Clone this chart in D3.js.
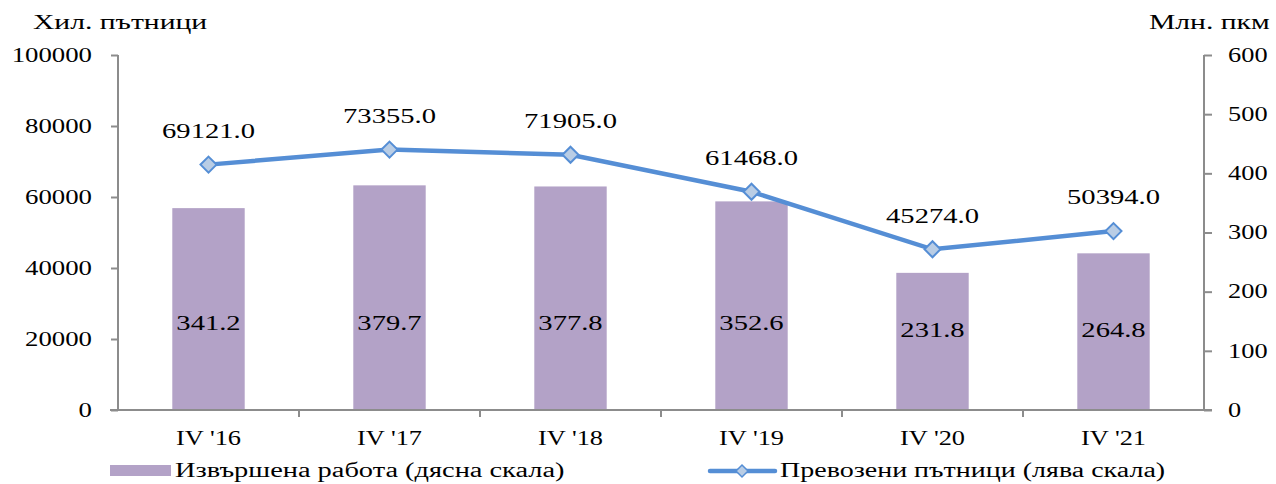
<!DOCTYPE html>
<html lang="bg">
<head>
<meta charset="utf-8">
<title>Chart</title>
<script src="https://d3js.org/d3.v7.min.js"></script>
<style>
body { margin: 0; background: #fff; }
text { font-family: "Liberation Serif", "Times New Roman", serif; fill: #000; }
</style>
</head>
<body>
<div id="chart"></div>
<script>
// data
var categories = ["IV '16", "IV '17", "IV '18", "IV '19", "IV '20", "IV '21"];
var workDone = [341.2, 379.7, 377.8, 352.6, 231.8, 264.8];          // right scale, mln pkm
var passengers = [69121.0, 73355.0, 71905.0, 61468.0, 45274.0, 50394.0]; // left scale, thousands
var leftTicks = [0, 20000, 40000, 60000, 80000, 100000];
var rightTicks = [0, 100, 200, 300, 400, 500, 600];

var w = 1276, h = 484;
var mLeft = 118, mRight = 1204, mTop = 55, mBottom = 410;

var svg = d3.select("#chart").append("svg")
  .attr("width", w).attr("height", h);

var x = d3.scaleBand().domain(categories).range([mLeft, mRight]).paddingInner(0).paddingOuter(0);
var yL = d3.scaleLinear().domain([0, 100000]).range([mBottom, mTop]);
var yR = d3.scaleLinear().domain([0, 600]).range([mBottom, mTop]);

// glyphs in the source are horizontally stretched, so scale text in x
function label(g, tx, ty, str, size, anchor, sx) {
  return g.append("text")
    .attr("transform", "translate(" + tx + "," + ty + ") scale(" + (sx || 1.3) + ",1)")
    .attr("text-anchor", anchor || "middle")
    .attr("dominant-baseline", "central")
    .style("font-size", size + "px")
    .text(str);
}

var axisColor = "#8c8c8c";

// bars
var barW = x.bandwidth() * 0.4;
svg.selectAll("rect.bar").data(workDone).enter().append("rect")
  .attr("class", "bar")
  .attr("x", (d, i) => x(categories[i]) + (x.bandwidth() - barW) / 2)
  .attr("y", d => yR(d))
  .attr("width", barW)
  .attr("height", d => yR(0) - yR(d))
  .attr("fill", "#b3a2c7");

// axes
var gl = svg.append("g").attr("transform", "translate(" + mLeft + ",0)")
  .call(d3.axisLeft(yL).tickValues(leftTicks).tickSize(7).tickFormat(""));
var gr = svg.append("g").attr("transform", "translate(" + mRight + ",0)")
  .call(d3.axisRight(yR).tickValues(rightTicks).tickSize(8).tickFormat(""));
[gl, gr].forEach(g => {
  g.select(".domain").attr("stroke", axisColor).attr("stroke-width", 2).attr("d", "M0," + mTop + "V" + mBottom);
  g.selectAll(".tick line").attr("stroke", axisColor).attr("stroke-width", 2);
});

// x axis line with ticks at category boundaries
svg.append("line").attr("x1", mLeft - 8).attr("x2", mRight + 8)
  .attr("y1", mBottom).attr("y2", mBottom)
  .attr("stroke", axisColor).attr("stroke-width", 2);
var bounds = categories.map(c => x(c));
svg.selectAll("line.xt").data(bounds.slice(1)).enter().append("line")
  .attr("x1", d => d).attr("x2", d => d)
  .attr("y1", mBottom).attr("y2", mBottom + 7)
  .attr("stroke", axisColor).attr("stroke-width", 2);

leftTicks.forEach(t => label(svg, 92, yL(t), d3.format("d")(t), 20, "end", 1.34));
rightTicks.forEach(t => label(svg, 1228, yR(t), t, 20, "start", 1.32));
categories.forEach(c => label(svg, x(c) + x.bandwidth() / 2, 438, c, 20, "middle", 1.32));

label(svg, 33, 22, "Хил. пътници", 20, "start", 1.48);
label(svg, 1149, 22, "Млн. пкм", 20, "start", 1.48);

// bar labels
workDone.forEach((d, i) => label(svg, x(categories[i]) + x.bandwidth() / 2, d < 300 ? 330 : 323, d.toFixed(1), 22));

// line
var cx = i => x(categories[i]) + x.bandwidth() / 2;
var line = d3.line().x((d, i) => cx(i)).y(d => yL(d));
svg.append("path").datum(passengers)
  .attr("d", line)
  .attr("fill", "none")
  .attr("stroke", "#558ed5")
  .attr("stroke-width", 4.5);

var diamond = "M0,-8L8,0L0,8L-8,0Z";
svg.selectAll("path.mk").data(passengers).enter().append("path")
  .attr("class", "mk")
  .attr("d", diamond)
  .attr("transform", (d, i) => "translate(" + cx(i) + "," + yL(d) + ")")
  .attr("fill", "#b9cde5")
  .attr("stroke", "#558ed5")
  .attr("stroke-width", 2);

passengers.forEach((d, i) => label(svg, cx(i), yL(d) - 34, d.toFixed(1), 22));

// legend
svg.append("rect").attr("x", 110).attr("y", 465).attr("width", 61).attr("height", 11).attr("fill", "#b3a2c7");
label(svg, 175, 470, "Извършена работа (дясна скала)", 20, "start", 1.42);
svg.append("line").attr("x1", 710).attr("x2", 775).attr("y1", 471).attr("y2", 471)
  .attr("stroke", "#558ed5").attr("stroke-width", 4.5).attr("stroke-linecap", "round");
svg.append("path").attr("d", "M0,-6L6,0L0,6L-6,0Z")
  .attr("transform", "translate(742,471)")
  .attr("fill", "#b9cde5").attr("stroke", "#558ed5").attr("stroke-width", 1.5);
label(svg, 780, 470, "Превозени пътници (лява скала)", 20, "start", 1.40);
</script>
</body>
</html>
